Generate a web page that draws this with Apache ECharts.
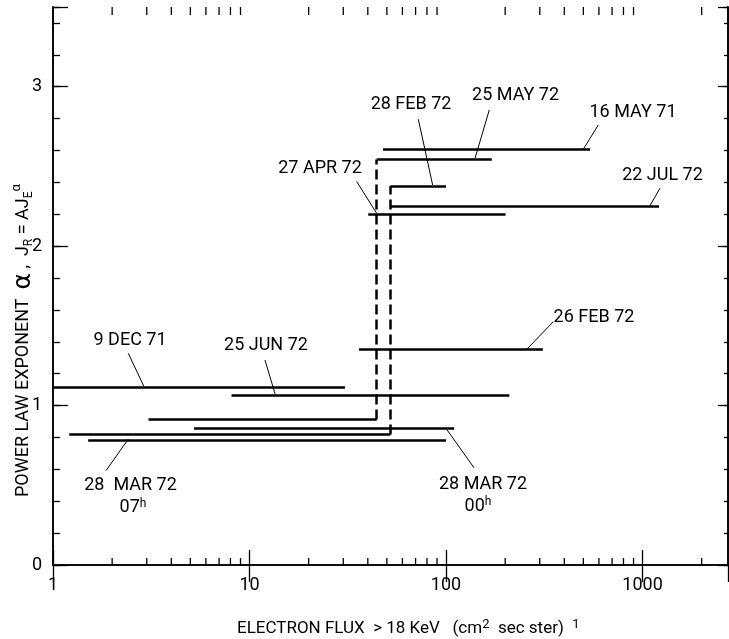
<!DOCTYPE html>
<html>
<head>
<meta charset="utf-8">
<script src="https://cdn.jsdelivr.net/npm/echarts@6/dist/echarts.min.js"></script>
<style>
html,body{margin:0;padding:0;background:#fff;}
#main{width:729px;height:639px;}
</style>
</head>
<body>
<div id="main"></div>
<script>
var FONT = "'Liberation Sans Narrow','Roboto',sans-serif";
var INK = '#000';

// solid spectra segments: flux start, flux end, exponent
var segStart = [47.8, 44.4, 52.1, 52.1, 40.2, 36.1, 1.0, 8.1, 3.06, 5.22, 1.21, 1.51];
var segEnd   = [541, 171, 100, 1213, 201, 311, 30.6, 210, 44.4, 110, 52.1, 100];
var segAlpha = [2.608, 2.543, 2.378, 2.253, 2.199, 1.352, 1.116, 1.064, 0.913, 0.857, 0.818, 0.784];

// dashed jumps: flux, exponent from, exponent to
var jumpX    = [44.4, 52.1];
var jumpFrom = [0.913, 0.818];
var jumpTo   = [2.543, 2.378];

// event labels (flux, exponent) and their pointer lines
var labelText = ['27 APR 72', '28 FEB 72', '25 MAY 72', '16 MAY 71', '22 JUL 72', '26 FEB 72',
                 '9 DEC 71', '25 JUN 72', '28  MAR 72', '07{h|h}', '28 MAR 72', '00{h|h}'];
var labelX = [22.85, 66.4, 226, 894.5, 1264, 566.5, 2.466, 12.13, 2.48, 2.554, 154.3, 145.5];
var labelY = [2.487, 2.886, 2.942, 2.839, 2.444, 1.553, 1.408, 1.377, 0.496, 0.358, 0.508, 0.370];
var ptrX1 = [35.1, 72.3, 166, 595.7, 1227, 351.7, 2.416, 11.99, 1.861, 138.8];
var ptrY1 = [2.405, 2.796, 2.854, 2.760, 2.363, 1.526, 1.328, 1.286, 0.592, 0.610];
var ptrX2 = [44.4, 85.5, 140.5, 499.7, 1092, 257.5, 2.905, 13.49, 2.416, 100.8];
var ptrY2 = [2.206, 2.384, 2.551, 2.608, 2.254, 1.353, 1.119, 1.073, 0.789, 0.851];

// axes
var xMin = 1, xMax = 2723;
var yMin = 0, yMax = 3.5;
var xMinorTicks = [2, 3, 4, 5, 6, 7, 8, 9, 20, 30, 40, 50, 60, 70, 80, 90,
                   200, 300, 400, 500, 600, 700, 800, 900, 2000];

var segData = segStart.map(function (s, i) {
    return { coords: [[s, segAlpha[i]], [segEnd[i], segAlpha[i]]] };
});
var jumpData = jumpX.map(function (x, i) {
    return { coords: [[x, jumpFrom[i]], [x, jumpTo[i]]] };
});
var ptrData = ptrX1.map(function (x, i) {
    return { coords: [[x, ptrY1[i]], [ptrX2[i], ptrY2[i]]] };
});
var labelData = labelText.map(function (t, i) {
    return { name: t, value: [labelX[i], labelY[i]] };
});

function xAxisOpt(pos, tickLen) {
    return {
        type: 'log', logBase: 10, position: pos, min: xMin, max: xMax,
        axisLine: { show: true, lineStyle: { color: INK, width: 1.6 } },
        axisTick: { show: true, inside: true, length: tickLen, lineStyle: { color: INK, width: 1.3 } },
        axisLabel: {
            show: pos === 'bottom', margin: 11, color: INK, fontFamily: FONT, fontSize: 18,
            showMaxLabel: false,
            formatter: function (v) {
                var l = Math.log(v) / Math.LN10;
                return Math.abs(l - Math.round(l)) < 1e-6 ? String(Math.round(Math.pow(10, Math.round(l)))) : '';
            }
        },
        splitLine: { show: false }
    };
}

function yAxisOpt(pos, interval, tickLen, labels) {
    return {
        type: 'value', position: pos, min: yMin, max: yMax, interval: interval,
        axisLine: { show: true, lineStyle: { color: INK, width: 1.6 } },
        axisTick: { show: true, inside: true, length: tickLen, lineStyle: { color: INK, width: 1.3 } },
        axisLabel: {
            show: labels, margin: 11, color: INK, fontFamily: FONT, fontSize: 18,
            formatter: function (v) { return v % 1 === 0 ? String(v) : ''; }
        },
        splitLine: { show: false }
    };
}

var myChart = echarts.init(document.getElementById('main'), null, { renderer: 'canvas' });

var option = {
    animation: false,
    backgroundColor: '#fff',
    grid: { left: 53, right: 1, top: 7, bottom: 74, containLabel: false, outerBoundsMode: 'none' },
    xAxis: [xAxisOpt('bottom', 15), xAxisOpt('top', 17)],
    yAxis: [
        yAxisOpt('left', 1, 15, true),
        yAxisOpt('left', 0.2, 7, false),
        yAxisOpt('right', 1, 10, false),
        yAxisOpt('right', 0.2, 4, false)
    ],
    graphic: [
        {
            type: 'text', left: 237, top: 618,
            style: {
                text: 'ELECTRON FLUX  > 18 KeV   (cm{s|2}  sec ster)  {s|1}',
                fill: INK, font: '17px ' + FONT,
                rich: { s: { fontSize: 13, fontFamily: FONT, fill: INK, padding: [0, 0, 8, 0] } }
            }
        },
        {
            type: 'text', x: 10, y: 497, rotation: Math.PI / 2,
            style: {
                text: 'POWER LAW EXPONENT  {a|α} ,  J{d|R} = AJ{d|E}{u|α}',
                fill: INK, font: '18px ' + FONT, verticalAlign: 'top',
                rich: {
                    a: { fontSize: 25, fontFamily: 'DejaVu Sans', fill: INK },
                    d: { fontSize: 12, fontFamily: FONT, fill: INK, padding: [10, 0, 0, 0] },
                    u: { fontSize: 13, fontFamily: FONT, fill: INK, padding: [0, 0, 14, 0] }
                }
            }
        }
    ],
    series: [
        {
            type: 'custom', name: 'minor ticks', xAxisIndex: 0, yAxisIndex: 0,
            data: xMinorTicks.map(function (v) { return [v, 0]; }),
            renderItem: function (params, api) {
                var v = api.value(0);
                var b = api.coord([v, yMin]);
                var t = api.coord([v, yMax]);
                return {
                    type: 'group', children: [
                        { type: 'line', shape: { x1: b[0], y1: b[1], x2: b[0], y2: b[1] - 7 }, style: { stroke: INK, lineWidth: 1.3 } },
                        { type: 'line', shape: { x1: t[0], y1: t[1], x2: t[0], y2: t[1] + 8 }, style: { stroke: INK, lineWidth: 1.3 } }
                    ]
                };
            }
        },
        {
            type: 'lines', name: 'spectra', coordinateSystem: 'cartesian2d',
            xAxisIndex: 0, yAxisIndex: 0, polyline: false, silent: true,
            lineStyle: { color: INK, width: 2.5, opacity: 1 },
            data: segData
        },
        {
            type: 'lines', name: 'jumps', coordinateSystem: 'cartesian2d',
            xAxisIndex: 0, yAxisIndex: 0, polyline: false, silent: true,
            lineStyle: { color: INK, width: 2.5, opacity: 1, type: [10, 5] },
            data: jumpData
        },
        {
            type: 'lines', name: 'pointers', coordinateSystem: 'cartesian2d',
            xAxisIndex: 0, yAxisIndex: 0, polyline: false, silent: true,
            lineStyle: { color: INK, width: 1, opacity: 1 },
            data: ptrData
        },
        {
            type: 'scatter', name: 'labels', xAxisIndex: 0, yAxisIndex: 0,
            symbolSize: 0, silent: true,
            itemStyle: { opacity: 1 },
            label: {
                show: true, position: 'inside', color: INK, fontFamily: FONT, fontSize: 18,
                opacity: 1,
                formatter: function (p) { return p.name; },
                rich: { h: { fontSize: 12, fontFamily: FONT, color: INK, padding: [0, 0, 8, 0] } }
            },
            data: labelData
        }
    ]
};

myChart.setOption(option);
</script>
</body>
</html>
